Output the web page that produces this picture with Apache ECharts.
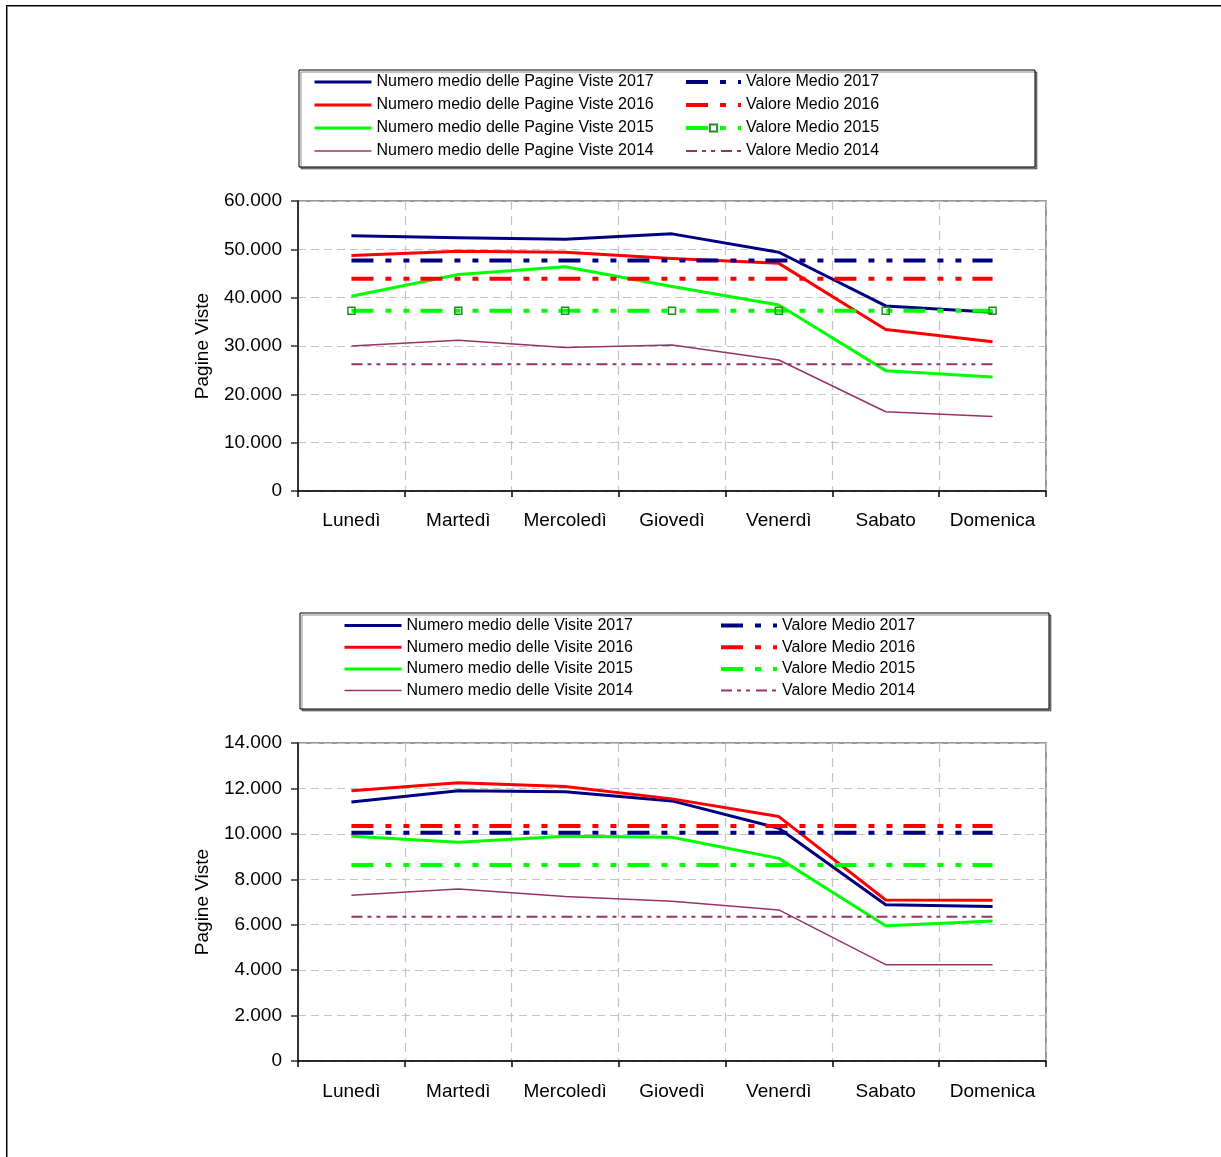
<!DOCTYPE html>
<html>
<head>
<meta charset="utf-8">
<script src="https://cdn.jsdelivr.net/npm/echarts@6/dist/echarts.min.js"></script>
<style>
  html, body { margin: 0; padding: 0; background: #fff; }
  body { width: 1221px; height: 1157px; position: relative; overflow: hidden; }
  #frame { position: absolute; left: 6px; top: 5px; width: 1400px; height: 1400px;
           border: 1px solid #000; box-shadow: inset 1px 1px 0 #888; box-sizing: border-box; }
  #pv { position: absolute; left: 0; top: 0; width: 1221px; height: 580px; }
  #vis { position: absolute; left: 0; top: 580px; width: 1221px; height: 577px; }
</style>
</head>
<body>
<div id="frame"></div>
<div id="pv"></div>
<div id="vis"></div>
<script>
// Giorni della settimana
const giorni = ['Lunedì', 'Martedì', 'Mercoledì', 'Giovedì', 'Venerdì', 'Sabato', 'Domenica'];

// Numero medio delle Pagine Viste per giorno
const pagine2017 = [52800, 52400, 52100, 53200, 49400, 38300, 37000];
const pagine2016 = [48700, 49600, 49400, 48100, 47100, 33400, 30900];
const pagine2015 = [40300, 44800, 46400, 42300, 38500, 24900, 23600];
const pagine2014 = [30000, 31200, 29700, 30200, 27100, 16400, 15400];
// Valore medio delle Pagine Viste (una riga orizzontale per anno)
const mediaPagine2017 = [47700, 47700, 47700, 47700, 47700, 47700, 47700];
const mediaPagine2016 = [43900, 43900, 43900, 43900, 43900, 43900, 43900];
const mediaPagine2015 = [37300, 37300, 37300, 37300, 37300, 37300, 37300];
const mediaPagine2014 = [26200, 26200, 26200, 26200, 26200, 26200, 26200];

// Numero medio delle Visite per giorno
const visite2017 = [11400, 11900, 11850, 11450, 10250, 6880, 6800];
const visite2016 = [11900, 12250, 12080, 11540, 10760, 7090, 7080];
const visite2015 = [9900, 9630, 9900, 9850, 8920, 5950, 6160];
const visite2014 = [7300, 7570, 7240, 7030, 6650, 4240, 4240];
// Valore medio delle Visite
const mediaVisite2017 = [10050, 10050, 10050, 10050, 10050, 10050, 10050];
const mediaVisite2016 = [10350, 10350, 10350, 10350, 10350, 10350, 10350];
const mediaVisite2015 = [8630, 8630, 8630, 8630, 8630, 8630, 8630];
const mediaVisite2014 = [6350, 6350, 6350, 6350, 6350, 6350, 6350];

const FONT = '"Liberation Sans", Arial, sans-serif';
const COL = { y2017: '#000080', y2016: '#ff0000', y2015: '#00ff00', y2014: '#993366' };
const DASH_MEDIA = [22, 12, 6, 12, 6, 11];
const DASH_MEDIA_2014 = [11, 5, 4, 5, 4, 6];

// Separatore delle migliaia all'italiana
function migliaia(v) {
  return String(v).replace(/\B(?=(\d{3})+(?!\d))/g, '.');
}

function lineaDati(name, data, color, width) {
  return { name, type: 'line', data, symbol: 'none', color,
           lineStyle: { color, width, join: 'round' } };
}
function lineaMedia(name, data, color, width, dash, marker) {
  const s = { name, type: 'line', data, color, symbol: 'none',
              lineStyle: { color, width, type: dash, cap: 'butt' } };
  if (marker) {
    s.symbol = 'rect';
    s.symbolSize = 7;
    s.itemStyle = { color: 'rgba(0,0,0,0)', borderColor: '#1f8f1f', borderWidth: 1.5 };
  }
  return s;
}

// Legenda a colonna: solo la linea, tranne le voci con un simbolo proprio
function legenda(names, left, top, itemWidth, itemGap, conSimbolo) {
  return {
    orient: 'vertical', left, top, itemWidth, itemHeight: 9, itemGap,
    selectedMode: false, padding: 0,
    itemStyle: { opacity: 0 },
    lineStyle: { width: 'inherit' },
    data: names.map(n => n === conSimbolo
      ? { name: n, itemStyle: { opacity: 1 } }
      : { name: n }),
    textStyle: { fontFamily: FONT, fontSize: 16, color: '#000', padding: [0, 0, 0, 0] }
  };
}

function assi(max, interval, gridTop, gridHeight, labelMargin) {
  return {
    grid: { left: 298, top: gridTop, width: 748, height: gridHeight, show: true,
            borderColor: '#999', borderWidth: 2, backgroundColor: 'transparent' },
    xAxis: {
      type: 'category', data: giorni, boundaryGap: true,
      axisLine: { lineStyle: { color: '#000', width: 1.5 } },
      axisTick: { show: true, alignWithLabel: false, length: 6, lineStyle: { color: '#000', width: 1.5 } },
      axisLabel: { fontFamily: FONT, fontSize: 19, color: '#000', margin: labelMargin, interval: 0 },
      splitLine: { show: true, lineStyle: { color: '#c4c4c4', width: 1.2, type: [9, 6] } }
    },
    yAxis: {
      type: 'value', min: 0, max, interval,
      name: 'Pagine Viste', nameLocation: 'middle', nameGap: 86,
      nameTextStyle: { fontFamily: FONT, fontSize: 19, color: '#000' },
      axisLine: { show: true, lineStyle: { color: '#333', width: 2 } },
      axisTick: { show: true, length: 7, lineStyle: { color: '#333', width: 1.5 } },
      axisLabel: { fontFamily: FONT, fontSize: 19, color: '#000', margin: 16, formatter: migliaia },
      splitLine: { show: true, lineStyle: { color: '#c4c4c4', width: 1.2, type: [8, 5] } }
    }
  };
}

function cornice(x, y, w, h) {
  return { type: 'rect', left: x, top: y, z: -1, silent: true,
           shape: { width: w, height: h },
           style: { fill: '#fff', stroke: '#000', lineWidth: 1,
                    shadowColor: 'rgba(0,0,0,0.45)', shadowOffsetX: 2, shadowOffsetY: 2, shadowBlur: 0 } };
}

// Grafico delle Pagine Viste
const nomiPv = ['Numero medio delle Pagine Viste 2017', 'Numero medio delle Pagine Viste 2016',
                'Numero medio delle Pagine Viste 2015', 'Numero medio delle Pagine Viste 2014'];
const nomiMedia = ['Valore Medio 2017', 'Valore Medio 2016', 'Valore Medio 2015', 'Valore Medio 2014'];

const chartPv = echarts.init(document.getElementById('pv'), null, { renderer: 'canvas' });
chartPv.setOption(Object.assign({
  animation: false,
  backgroundColor: 'transparent',
  graphic: [cornice(298.5, 69.5, 736, 97)],
  legend: [legenda(nomiPv, 313, 74, 57, 7), legenda(nomiMedia, 684, 74, 55, 7, 'Valore Medio 2015')],
  series: [
    lineaDati(nomiPv[0], pagine2017, COL.y2017, 3),
    lineaDati(nomiPv[1], pagine2016, COL.y2016, 3),
    lineaDati(nomiPv[2], pagine2015, COL.y2015, 3),
    lineaDati(nomiPv[3], pagine2014, COL.y2014, 1.5),
    lineaMedia(nomiMedia[0], mediaPagine2017, COL.y2017, 4, DASH_MEDIA),
    lineaMedia(nomiMedia[1], mediaPagine2016, COL.y2016, 4, DASH_MEDIA),
    lineaMedia(nomiMedia[2], mediaPagine2015, COL.y2015, 4, DASH_MEDIA, true),
    lineaMedia(nomiMedia[3], mediaPagine2014, COL.y2014, 2, DASH_MEDIA_2014)
  ]
}, assi(60000, 10000, 201, 290, 20)));

// Grafico delle Visite
const nomiVis = ['Numero medio delle Visite 2017', 'Numero medio delle Visite 2016',
                 'Numero medio delle Visite 2015', 'Numero medio delle Visite 2014'];

const chartVis = echarts.init(document.getElementById('vis'), null, { renderer: 'canvas' });
chartVis.setOption(Object.assign({
  animation: false,
  backgroundColor: 'transparent',
  graphic: [cornice(299.5, 32.5, 749, 96)],
  legend: [legenda(nomiVis, 343, 37.5, 57, 5.7), legenda(nomiMedia, 719, 37.5, 56, 5.7)],
  series: [
    lineaDati(nomiVis[0], visite2017, COL.y2017, 3),
    lineaDati(nomiVis[1], visite2016, COL.y2016, 3),
    lineaDati(nomiVis[2], visite2015, COL.y2015, 3),
    lineaDati(nomiVis[3], visite2014, COL.y2014, 1.5),
    lineaMedia(nomiMedia[0], mediaVisite2017, COL.y2017, 4, DASH_MEDIA),
    lineaMedia(nomiMedia[1], mediaVisite2016, COL.y2016, 4, DASH_MEDIA),
    lineaMedia(nomiMedia[2], mediaVisite2015, COL.y2015, 4, DASH_MEDIA),
    lineaMedia(nomiMedia[3], mediaVisite2014, COL.y2014, 2, DASH_MEDIA_2014)
  ]
}, assi(14000, 2000, 163, 318, 21)));
</script>
</body>
</html>
